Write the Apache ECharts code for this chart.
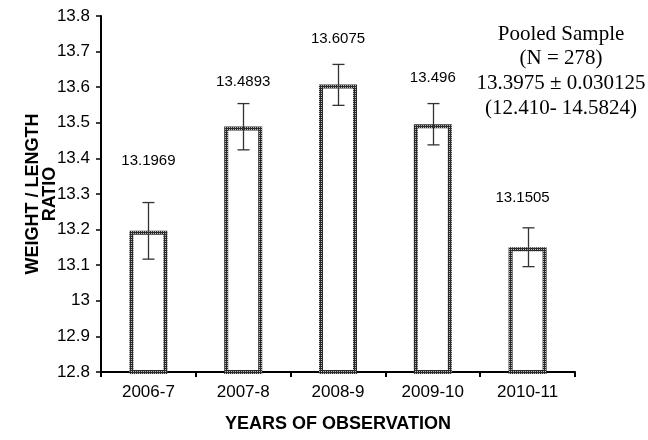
<!DOCTYPE html>
<html>
<head>
<meta charset="utf-8">
<script src="https://cdn.jsdelivr.net/npm/echarts@6/dist/echarts.min.js"></script>
<style>html,body{margin:0;padding:0;background:#fff}#c{width:648px;height:440px}</style>
</head>
<body>
<div id="c"></div>
<script>
var categories = ['2006-7', '2007-8', '2008-9', '2009-10', '2010-11'];
var means = [13.1969, 13.4893, 13.6075, 13.496, 13.1505];
var errLow = [13.117, 13.424, 13.549, 13.438, 13.096];
var errHigh = [13.276, 13.554, 13.664, 13.554, 13.205];
var valueLabels = ['13.1969', '13.4893', '13.6075', '13.496', '13.1505'];
var pooledText = ['Pooled Sample', '(N = 278)', '13.3975 \u00b1 0.030125', '(12.410- 14.5824)'];
var yTicks = { min: 12.8, max: 13.8, step: 0.1 };

// label offsets above bar tops (style)
var labelOffsets = [[0, -62], [0, -37], [0, -37.5], [0, -38], [-5, -41]];

function makePattern() {
  var cv = document.createElement('canvas');
  cv.width = 2; cv.height = 2;
  var ctx = cv.getContext('2d');
  ctx.fillStyle = '#2a2a2a';
  ctx.fillRect(0, 0, 2, 2);
  ctx.fillStyle = '#bdbdbd';
  ctx.fillRect(1, 1, 1, 1);
  return cv;
}
var pat = makePattern();
var sans = 'Liberation Sans, Arial, sans-serif';

var chart = echarts.init(document.getElementById('c'));
var barData = means.map(function (v, i) {
  return {
    value: v,
    label: { offset: labelOffsets[i], formatter: valueLabels[i] }
  };
});
var errData = categories.map(function (c, i) { return [i, errLow[i], errHigh[i]]; });

var pooledGraphics = pooledText.map(function (t, i) {
  return {
    type: 'text',
    x: 561,
    y: 34 + i * 24.7,
    style: {
      text: t,
      align: 'center',
      verticalAlign: 'middle',
      fontFamily: 'Liberation Serif, Times New Roman, serif',
      fontSize: 21,
      fill: '#000'
    }
  };
});

chart.setOption({
  animation: false,
  backgroundColor: '#fff',
  grid: { left: 101, right: 73, top: 16, bottom: 68, containLabel: false },
  xAxis: {
    type: 'category',
    data: categories,
    boundaryGap: true,
    axisLine: { lineStyle: { color: '#000', width: 2 } },
    axisTick: { show: true, length: 5, inside: false, lineStyle: { color: '#000', width: 2 } },
    axisLabel: { color: '#000', fontFamily: sans, fontSize: 17, margin: 12 },
    name: 'YEARS OF OBSERVATION',
    nameLocation: 'middle',
    nameMoveOverlap: false,
    nameGap: 43,
    nameTextStyle: { color: '#000', fontFamily: sans, fontSize: 18, fontWeight: 'bold' }
  },
  yAxis: {
    type: 'value',
    min: yTicks.min,
    max: yTicks.max,
    interval: yTicks.step,
    splitLine: { show: false },
    axisLine: { show: true, lineStyle: { color: '#000', width: 2 } },
    axisTick: { show: true, length: 5, lineStyle: { color: '#000', width: 1.5 } },
    axisLabel: {
      color: '#000', fontFamily: sans, fontSize: 17, margin: 11,
      formatter: function (v) { return String(Math.round(v * 10) / 10); }
    },
    name: 'WEIGHT / LENGTH\nRATIO',
    nameLocation: 'middle',
    nameRotate: 90,
    nameMoveOverlap: false,
    nameGap: 42,
    nameTextStyle: { color: '#000', fontFamily: sans, fontSize: 18, fontWeight: 'bold', lineHeight: 17.5 }
  },
  series: [
    {
      type: 'bar',
      data: barData,
      barWidth: 38,
      itemStyle: {
        color: '#fff',
        borderColor: { image: pat, repeat: 'repeat' },
        borderWidth: 4
      },
      label: {
        show: true,
        position: 'top',
        distance: 0,
        color: '#000',
        fontFamily: sans,
        fontSize: 15,
        lineHeight: 16
      },
      z: 2
    },
    {
      type: 'custom',
      data: errData,
      z: 5,
      renderItem: function (params, api) {
        var lo = api.coord([api.value(0), api.value(1)]);
        var hi = api.coord([api.value(0), api.value(2)]);
        var x = Math.round(lo[0]) + 0.5;
        var w = 6;
        var st = { stroke: '#333', lineWidth: 1.3 };
        return {
          type: 'group',
          children: [
            { type: 'line', shape: { x1: x, y1: hi[1], x2: x, y2: lo[1] }, style: st },
            { type: 'line', shape: { x1: x - w, y1: hi[1], x2: x + w, y2: hi[1] }, style: st },
            { type: 'line', shape: { x1: x - w, y1: lo[1], x2: x + w, y2: lo[1] }, style: st }
          ]
        };
      }
    }
  ],
  graphic: pooledGraphics
});
</script>
</body>
</html>
